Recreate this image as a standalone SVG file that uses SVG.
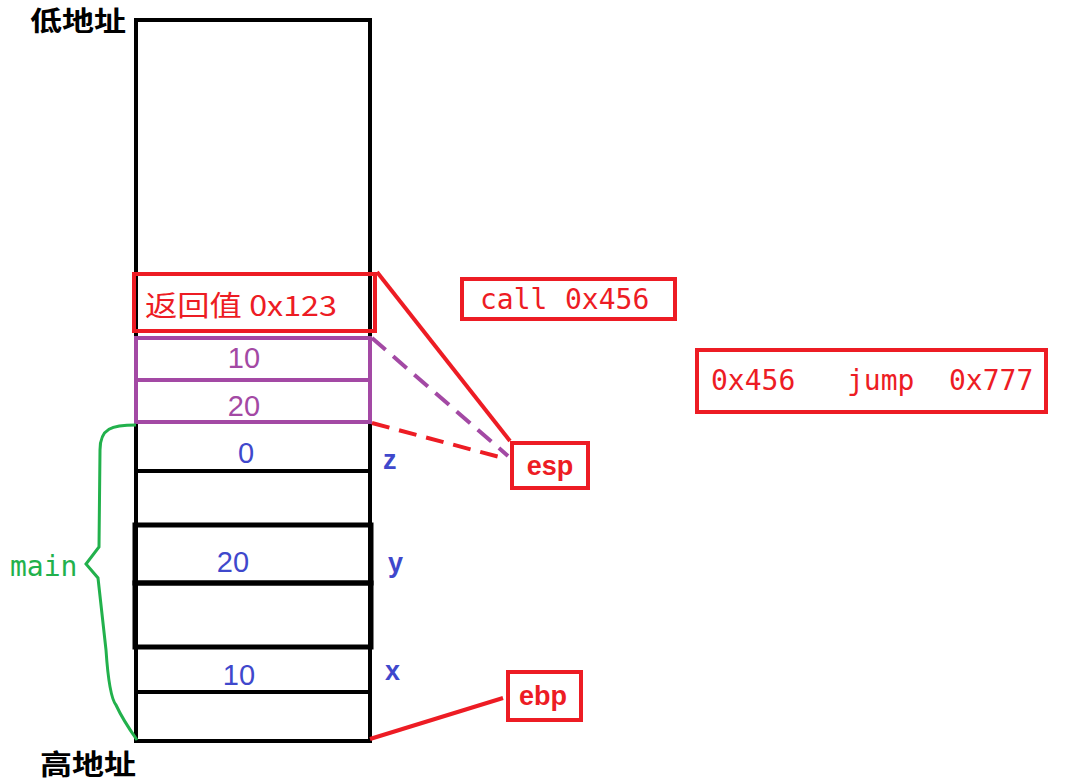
<svg xmlns="http://www.w3.org/2000/svg" width="1065" height="782" viewBox="0 0 1065 782">
<style>
.blk{fill:none;stroke:#000;stroke-width:4}
.red{fill:none;stroke:#ed1c24;stroke-width:4}
.pur{fill:none;stroke:#a349a4;stroke-width:4}
.cn{font-family:"Noto Sans CJK SC","Liberation Sans",sans-serif;font-weight:bold}
.num{font-family:"Liberation Sans","Noto Sans CJK SC",sans-serif;font-size:29px;text-anchor:middle}
.mono{font-family:"DejaVu Sans Mono","Liberation Mono",monospace;font-size:28px;fill:#ed1c24}
.lbl{font-family:"Liberation Sans",sans-serif;font-size:27px;fill:#3f48cc;font-weight:bold}
.rtxt{font-family:"Liberation Sans",sans-serif;font-size:27px;fill:#ed1c24;font-weight:bold}
</style>
<rect width="1065" height="782" fill="#fff"/>
<g id="stack">
<rect class="blk" x="136" y="20" width="234" height="721"/>
<line class="blk" x1="136" y1="471" x2="370" y2="471"/>
<rect class="blk" x="135" y="525" width="236" height="58" style="stroke-width:5"/>
<rect class="blk" x="135" y="583" width="236" height="64" style="stroke-width:5"/>
<line class="blk" x1="136" y1="692" x2="370" y2="692"/>
<text class="num" x="246" y="463" fill="#3f48cc">0</text>
<text class="num" x="233" y="572" fill="#3f48cc">20</text>
<text class="num" x="239" y="685" fill="#3f48cc">10</text>
</g>
<g id="purple-cells">
<rect class="pur" x="136" y="338" width="234" height="42"/>
<rect class="pur" x="136" y="380" width="234" height="42"/>
<text class="num" x="244" y="368" fill="#a349a4">10</text>
<text class="num" x="244" y="416" fill="#a349a4">20</text>
</g>
<g id="return-value">
<rect class="red" x="134" y="274" width="241" height="57"/>
<text x="145" y="316" font-family="'Noto Sans CJK SC','Liberation Sans',sans-serif" font-weight="normal" font-size="28" fill="#ed1c24" textLength="192" lengthAdjust="spacingAndGlyphs">返回值 0x123</text>
</g>
<g id="labels">
<text class="cn" x="30" y="31" font-size="27" fill="#000" textLength="96" lengthAdjust="spacingAndGlyphs">低地址</text>
<text class="cn" x="40" y="775" font-size="28" fill="#000" textLength="96" lengthAdjust="spacingAndGlyphs">高地址</text>
<text class="lbl" x="383" y="469">z</text>
<text class="lbl" x="388" y="572">y</text>
<text class="lbl" x="385" y="680">x</text>
</g>
<g id="main-brace">
<path d="M136,425 C112,425 100,428 100,450 L99,547 L86,564 L98,578 L106,650 C108,680 112,700 116,705 C122,718 130,730 137,740" fill="none" stroke="#22b14c" stroke-width="3"/>
<text x="10" y="576" font-family="'DejaVu Sans Mono','Liberation Mono',monospace" font-size="28" fill="#22b14c">main</text>
</g>
<g id="esp">
<rect class="red" x="512" y="443" width="76" height="45"/>
<text class="rtxt" x="550" y="475" text-anchor="middle">esp</text>
</g>
<g id="ebp">
<rect class="red" x="508" y="672" width="73" height="48"/>
<text class="rtxt" x="543" y="705" text-anchor="middle">ebp</text>
</g>
<g id="call">
<rect class="red" x="462" y="279" width="213" height="40"/>
<text class="mono" x="480" y="309">call</text>
<text class="mono" x="565" y="309">0x456</text>
</g>
<g id="jump">
<rect class="red" x="697" y="350" width="349" height="62"/>
<text class="mono" x="711" y="390">0x456</text>
<text class="mono" x="847" y="390">jump</text>
<text class="mono" x="949" y="390">0x777</text>
</g>
<g id="connectors">
<line x1="377" y1="272" x2="510" y2="441" stroke="#ed1c24" stroke-width="4"/>
<line x1="372" y1="338" x2="508" y2="456" stroke="#a349a4" stroke-width="4" stroke-dasharray="18,10"/>
<line x1="372" y1="423" x2="503" y2="458" stroke="#ed1c24" stroke-width="4" stroke-dasharray="18,10"/>
<line x1="370" y1="739" x2="503" y2="698" stroke="#ed1c24" stroke-width="4"/>
</g>
</svg>
